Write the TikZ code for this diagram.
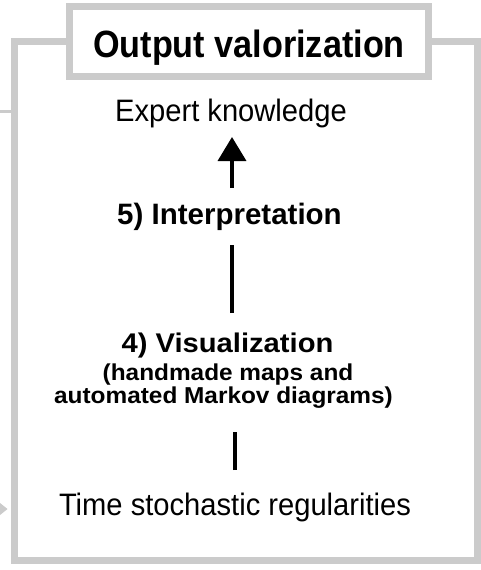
\documentclass[tikz,border=0pt]{standalone}
\usepackage{fontspec}
\setmainfont{Liberation Sans}
\newfontfamily\titlef[FakeStretch=0.9]{Liberation Sans}
\newfontfamily\regf[FakeStretch=0.94]{Liberation Sans}
\newfontfamily\visf[FakeStretch=1.08]{Liberation Sans}
\newfontfamily\subf[FakeStretch=1.06]{Liberation Sans}
\usetikzlibrary{arrows.meta}
\definecolor{framegray}{HTML}{CBCBCB}
\tikzset{
  frame/.style={draw=framegray, line width=7pt},
  txt/.style={anchor=base, inner sep=0pt, text=black},
  link/.style={line width=3.6pt, black},
  uparrow/.style={link, -{Triangle[length=24pt,width=28pt]}},
}
\begin{document}
\begin{tikzpicture}[x=1pt,y=-1pt]
\useasboundingbox (0,0) rectangle (481,570);
\fill[white] (0,0) rectangle (481,570);
% side connectors
\coordinate (inL) at (0,111);
\coordinate (inLend) at (11,111);
\draw[draw=framegray, line width=3pt] (inL) -- (inLend);
\coordinate (arrL) at (0,509);
\fill[framegray] (0,503) -- (7.5,509) -- (0,515) -- cycle;
% outer frame
\draw[frame] (14,41) rectangle (477,560);
% title box
\node[frame, fill=white, minimum width=359pt, minimum height=69.5pt, inner sep=0pt] (title) at (249,41.25) {};
\node[txt, font=\titlef\bfseries\fontsize{38}{40}\selectfont] (titletext) at (249,57) {Output valorization};
% texts
\node[txt, font=\regf\fontsize{31}{34}\selectfont] (expert) at (231,121) {Expert knowledge};
\node[txt, font=\bfseries\fontsize{29.5}{32}\selectfont] (interp) at (229.5,224) {5) Interpretation};
\node[txt, font=\visf\bfseries\fontsize{27}{30}\selectfont] (visu) at (227.5,352) {4) Visualization};
\node[txt, font=\subf\bfseries\fontsize{23}{24}\selectfont] (sub1) at (228,380) {(handmade maps and};
\node[txt, font=\subf\bfseries\fontsize{23}{24}\selectfont] (sub2) at (223.5,403) {automated Markov diagrams)};
\node[txt, font=\regf\fontsize{31}{34}\selectfont] (time) at (235,515) {Time stochastic regularities};
% connectors
\coordinate (a5b) at (232,188);
\coordinate (a5t) at (232,137);
\draw[uparrow] (a5b) -- (a5t);
\coordinate (l4b) at (232,313);
\coordinate (l4t) at (232,245);
\draw[link] (l4b) -- (l4t);
\coordinate (l3b) at (235,470);
\coordinate (l3t) at (235,432);
\draw[link] (l3b) -- (l3t);
\end{tikzpicture}
\end{document}
